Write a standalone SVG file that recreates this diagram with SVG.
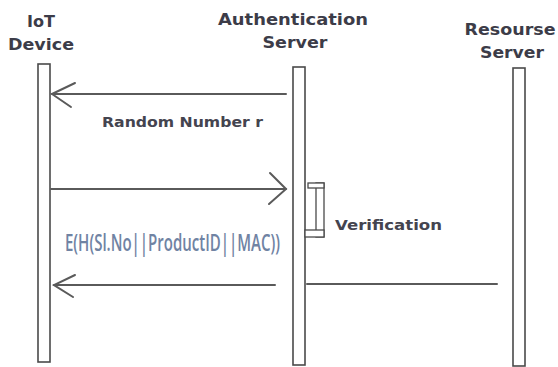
<svg xmlns="http://www.w3.org/2000/svg" width="558" height="367" viewBox="0 0 558 367">
<style>
.hdr{font-family:"DejaVu Sans","Liberation Sans",sans-serif;font-size:16.5px;font-weight:bold;fill:#3c3c48;text-anchor:middle}
.lbl{font-family:"DejaVu Sans","Liberation Sans",sans-serif;font-size:14px;font-weight:bold;fill:#44444f}
.bar{fill:#fff;stroke:#4a4a4a;stroke-width:1.6}
.msg{stroke:#5a5a5a;stroke-width:2;fill:none;stroke-linecap:round;stroke-linejoin:miter}
.act{fill:#fff;stroke:#4a4a4a;stroke-width:1.3}
</style>
<rect width="558" height="367" fill="#fff"/>
<g id="iot">
<text class="hdr" x="41" y="27" textLength="28" lengthAdjust="spacingAndGlyphs">IoT</text>
<text class="hdr" x="41" y="50" textLength="66" lengthAdjust="spacingAndGlyphs">Device</text>
<rect class="bar" x="38" y="64" width="12" height="298"/>
</g>
<g id="auth">
<text class="hdr" x="293" y="25" textLength="150" lengthAdjust="spacingAndGlyphs">Authentication</text>
<text class="hdr" x="295" y="48" textLength="65" lengthAdjust="spacingAndGlyphs">Server</text>
<rect class="bar" x="293" y="67" width="12" height="298"/>
</g>
<g id="resource">
<text class="hdr" x="510" y="35" textLength="91" lengthAdjust="spacingAndGlyphs">Resourse</text>
<text class="hdr" x="512" y="58" textLength="64" lengthAdjust="spacingAndGlyphs">Server</text>
<rect class="bar" x="513" y="68" width="12" height="298"/>
</g>
<g id="verification">
<rect class="act" x="316" y="183" width="8" height="54"/>
<rect class="act" x="308" y="183" width="16" height="5"/>
<rect class="act" x="305" y="230" width="19" height="7"/>
<text class="lbl" x="335" y="230" textLength="107" lengthAdjust="spacingAndGlyphs">Verification</text>
</g>
<g id="connectors">
<line class="msg" x1="286" y1="94" x2="52" y2="94"/>
<polyline class="msg" points="75,83 52,94 71,107"/>
<text class="lbl" x="102" y="127" textLength="161" lengthAdjust="spacingAndGlyphs">Random Number r</text>
<line class="msg" x1="51" y1="189" x2="286" y2="189"/>
<polyline class="msg" points="270,173 286,189 269,204"/>
<text transform="translate(65,251) scale(0.72,1)" x="0" y="0" font-family="'Open Sans','Liberation Sans',sans-serif" font-size="23" font-weight="600" fill="#7083a3" textLength="298.6" lengthAdjust="spacingAndGlyphs">E(H(Sl.No||ProductID||MAC))</text>
<line class="msg" x1="275" y1="285" x2="54" y2="285"/>
<polyline class="msg" points="75,275 54,285 73,297"/>
<line class="msg" x1="307" y1="284" x2="497" y2="284"/>
</g>
</svg>
